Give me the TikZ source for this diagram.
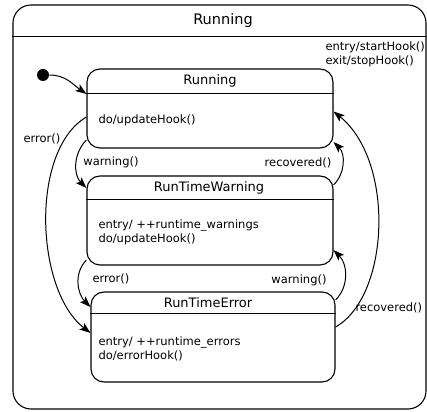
\documentclass[tikz,border=0pt]{standalone}
\usepackage{fontspec}
\setmainfont{DejaVu Sans}
\usepackage{tikz}
\usetikzlibrary{arrows.meta,positioning}

\begin{document}
\begin{tikzpicture}[x=1pt, y=1pt, line width=1pt, lbl/.style={inner sep=1pt, font=\fontsize{11.5}{14}\selectfont}, >={Stealth[length=11pt,width=8pt,inset=2.5pt]}]
\tikzstyle{st}=[draw, rounded corners=13pt, line width=1.1pt, inner sep=0pt]
\tikzstyle{ttl}=[inner sep=0pt, font=\fontsize{13}{15}\selectfont]
\tikzstyle{txt}=[inner sep=0pt, align=left, anchor=north west, font=\fontsize{11.5}{14}\selectfont]
\useasboundingbox (0,0) rectangle (427,411);
% outer state
\node[st, rounded corners=18pt, minimum width=413pt, minimum height=404pt] (top) at (219.5,204) {};
\node[ttl, font=\fontsize{14.5}{16}\selectfont] (topT) at (223,390) {Running};
\node[txt] (topB) at (325,370) {entry/startHook()\\exit/stopHook()};
% inner states
\node[st, minimum width=246pt, minimum height=79pt] (run) at (210,302.5) {};
\node[st, minimum width=246pt, minimum height=89pt] (warn) at (210,190.5) {};
\node[st, minimum width=244pt, minimum height=90pt] (err) at (213,74) {};
\foreach \s/\y in {top/375, run/318, warn/212, err/98}{\draw[line width=0.9pt] (\s.west |- 0,\y) -- (\s.east |- 0,\y);}
\node[ttl] (runT) at (210,330) {Running};
\node[ttl] (warnT) at (209,223) {RunTimeWarning};
\node[ttl] (errT) at (208,108) {RunTimeError};
\node[txt, anchor=west] (runB) at (98,291) {do/updateHook()};
\node[txt] (warnB) at (98,192) {entry/ ++runtime\_warnings\\do/updateHook()};
\node[txt] (errB) at (98,75) {entry/ ++runtime\_errors\\do/errorHook()};
% initial
\node[circle, fill, inner sep=0pt, minimum size=12pt] (init) at (43,336) {};
\draw[->] (init.east) to[out=0,in=145] ([yshift=14.5pt]run.west);
% transitions
\draw[->] ([yshift=-8.5pt]run.west) .. controls (30,261) and (35,121) .. ([yshift=4pt]err.west);
\node[lbl] (lerr1) at (42,272) {error()};
\draw[->] ([yshift=-31.5pt]run.west) to[out=225,in=135] ([yshift=32.5pt]warn.west);
\node[lbl] (lwarn1) at (111,249) {warning()};
\draw[->] ([yshift=35.5pt]warn.east) to[out=45,in=-45] ([yshift=-33.5pt]run.east);
\node[lbl] (lrec1) at (298,248) {recovered()};
\draw[->] ([yshift=-39.5pt]warn.west) to[out=225,in=135] ([yshift=30pt]err.west);
\node[lbl] (lerr2) at (111,132) {error()};
\draw[->] ([yshift=37pt]err.east) to[out=45,in=-45] ([yshift=-29.5pt]warn.east);
\node[lbl] (lwarn2) at (299,131) {warning()};
\draw[->] ([yshift=10pt]err.east) .. controls (390,115) and (395,250) .. ([yshift=-3pt]run.east);
\node[lbl, anchor=west] (lrec2) at (354,103) {recovered()};
\end{tikzpicture}
\end{document}
